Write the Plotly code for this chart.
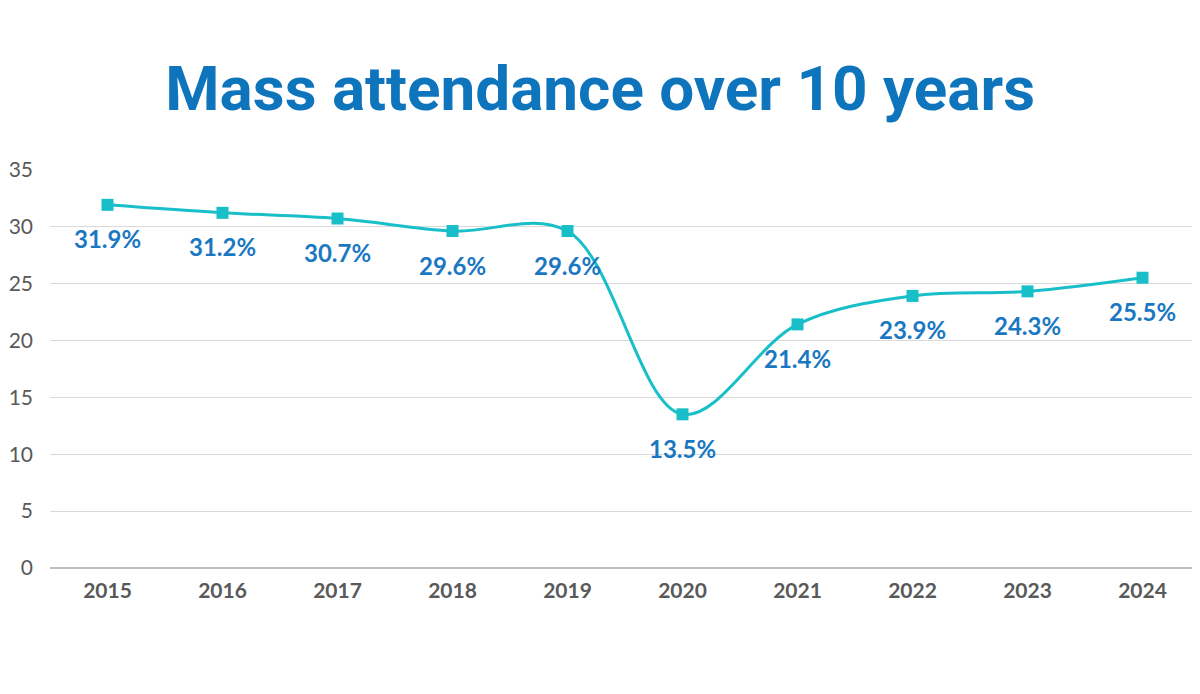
import plotly.graph_objects as go

years = ["2015", "2016", "2017", "2018", "2019", "2020", "2021", "2022", "2023", "2024"]
attendance = [31.9, 31.2, 30.7, 29.6, 29.6, 13.5, 21.4, 23.9, 24.3, 25.5]
labels = [f"{v}%" for v in attendance]
y_ticks = [0, 5, 10, 15, 20, 25, 30, 35]

LINE = "#18bfc8"
BLUE = "#1a78c2"
GRAY = "#595959"

fig = go.Figure()
fig.add_trace(go.Scatter(
    x=years, y=attendance, mode="lines+markers",
    line=dict(color=LINE, width=3, shape="spline", smoothing=1),
    marker=dict(symbol="square", size=12, color=LINE),
    hoverinfo="skip", showlegend=False, cliponaxis=False,
))
for i, (y, t) in enumerate(zip(attendance, labels)):
    fig.add_annotation(x=i, y=y, text=t, showarrow=False, yshift=-34,
                       font=dict(family="Lato, Open Sans, sans-serif", size=24, color=BLUE, weight="bold"))

fig.update_layout(
    width=1200, height=694,
    paper_bgcolor="white", plot_bgcolor="white",
    margin=dict(l=42, r=8, t=161, b=134),
    title=dict(text="Mass attendance over 10 years", x=0.4935, xanchor="center", y=0.885, yanchor="middle",
               font=dict(family="Roboto, sans-serif", size=62, color="#0e75bc", weight="bold")),
    xaxis=dict(type="category", range=[-0.5, 9.5], showgrid=False, ticks="", showline=False, zeroline=False,
               automargin=False,
               tickfont=dict(family="Lato, sans-serif", size=21, color=GRAY, weight="bold"), ticklabelstandoff=8),
    yaxis=dict(range=[0, 35.05], tickvals=y_ticks, showgrid=True, gridcolor="#d9d9d9", gridwidth=1,
               zeroline=True, zerolinecolor="#bfbfbf", zerolinewidth=2, showline=False, ticks="",
               automargin=False,
               tickfont=dict(family="Lato, sans-serif", size=21, color=GRAY), ticklabelstandoff=16),
)
fig.write_html("out.html")
